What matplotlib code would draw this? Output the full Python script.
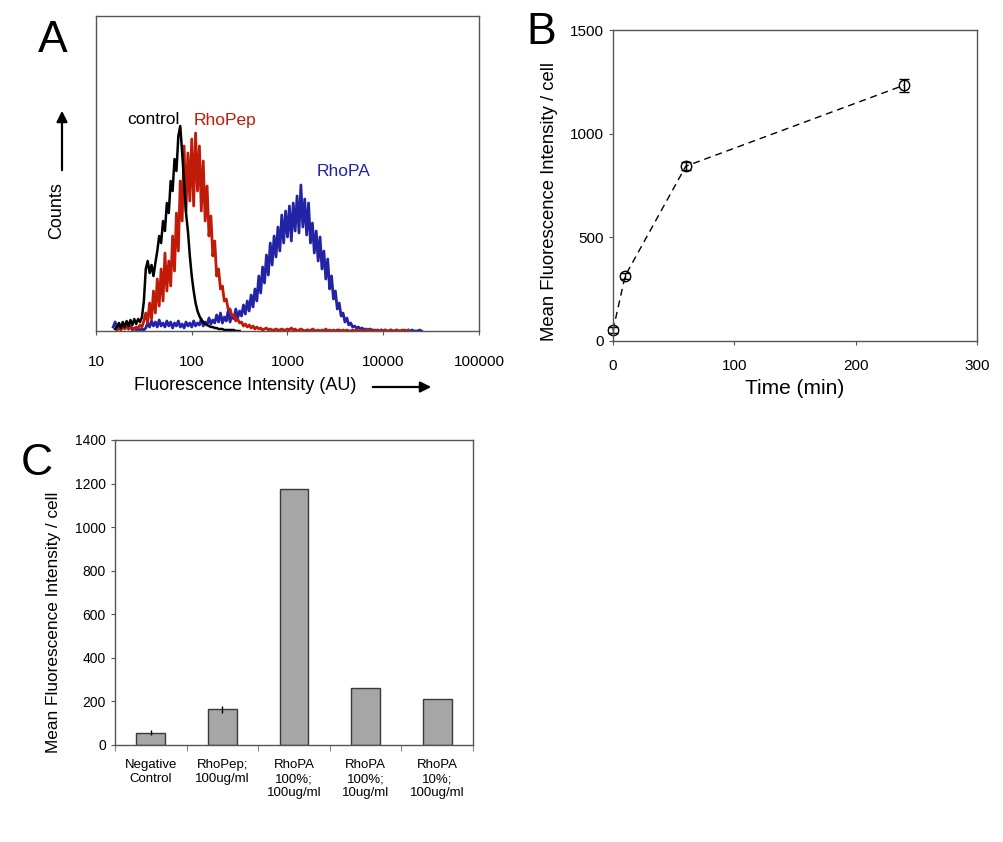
import numpy as np
import matplotlib
matplotlib.use("Agg")
import matplotlib.pyplot as plt

plt.rcParams['font.family'] = ['Liberation Sans', 'DejaVu Sans']

# ---- panel A : flow cytometry histograms (log10 channel grid, step 0.02) ----
step = 0.02
control_start = 1.20
control_counts = [2, 4, 8, 3, 9, 4, 10, 5, 11, 6, 12, 7, 12, 9, 14, 30, 62, 70, 58, 66,
                  55, 68, 80, 95, 88, 110, 100, 128, 118, 150, 140, 172, 160, 195, 205, 178,
                  150, 118, 100, 75, 55, 40, 28, 20, 15, 11, 9, 7, 6, 5, 4, 4, 3, 3, 2, 2,
                  2, 1, 1, 1, 1, 1, 1, 0, 0, 0]
rhopep_start = 1.22
rhopep_counts = [1, 3, 1, 4, 2, 5, 2, 4, 3,
                 2, 4, 3, 6, 4, 10, 18, 8, 28, 12, 40, 18, 52, 25, 62, 30, 78, 40, 70, 45,
                 95, 60, 118, 80, 150, 110, 185, 120, 178, 130, 192, 125, 198, 140, 185, 120,
                 170, 110, 145, 95, 115, 75, 90, 55, 62, 42, 45, 30, 32, 22, 22, 15, 16, 10,
                 12, 8, 9, 5, 7, 4, 6, 3, 5, 2, 4, 2, 3, 1, 2, 3, 1, 2, 1, 1, 2, 1,
                 1, 2, 1, 1, 2, 1, 3, 1, 2, 0, 1, 2, 1, 0, 1, 1, 0, 2, 1, 0, 1, 0, 1, 0,
                 2, 0, 1, 0, 1, 0, 1, 1, 0, 1, 0, 1, 0, 0, 1, 0, 1, 0, 1, 0, 0, 1, 0, 1,
                 0, 0, 1, 0, 0, 1, 0, 1, 0, 0, 1, 0, 0, 1, 0, 0, 1, 0, 0, 1]
rhopa_start = 1.18
rhopa_counts = [4, 9, 3, 7, 2, 8, 3, 6, 2, 5, 1, 3, 1, 2, 1, 2, 1, 3, 8, 4, 10, 5, 9, 4,
                11, 5, 8, 4, 10, 5, 9, 3, 8, 5, 10, 4, 7, 3, 9, 5, 8, 4, 10, 5, 8, 6, 12, 5,
                9, 6, 13, 7, 11, 8, 16, 9,
                18, 8, 14, 10, 20, 9, 16, 12, 22, 13, 20, 15, 26, 17, 30, 20,
                36, 24, 42, 30, 55, 38, 64, 48, 76, 56, 88, 66, 95, 74, 104, 80, 116, 88,
                120, 94, 125, 90, 128, 100, 135, 98, 146, 104, 132, 96, 128, 88, 108, 78,
                100, 70, 94, 62, 80, 52, 72, 42, 55, 32, 40, 22, 28, 15, 18, 9, 13, 6, 8,
                4, 5, 3, 4, 2, 3, 1, 2, 1, 2, 1, 1, 0, 1, 0, 1, 0, 1, 0, 0, 1, 0, 0, 1,
                0, 0, 0, 1, 0, 0, 0, 1, 0, 0, 0, 1, 0]

# ---- panel B : time course ----
time_min = [0, 10, 60, 240]
time_mfi = [52, 314, 843, 1234]
time_err = [15, 15, 20, 32]

# ---- panel C : bar chart ----
bar_labels = ['Negative\nControl', 'RhoPep;\n100ug/ml', 'RhoPA\n100%;\n100ug/ml',
              'RhoPA\n100%;\n10ug/ml', 'RhoPA\n10%;\n100ug/ml']
bar_mfi = [57, 163, 1174, 260, 209]
bar_err = [11, 17, 0, 0, 0]

W, H = 1004, 842
fig = plt.figure(figsize=(W / 100, H / 100), dpi=100)


def box(l, t, r, b):
    return [l / W, 1 - b / H, (r - l) / W, (b - t) / H]


frame_col = '#555555'

# ----------------- A -----------------
axA = fig.add_axes(box(96, 16, 479, 331))
curves = [(rhopa_start, rhopa_counts, '#2323a6', 2.0),
          (rhopep_start, rhopep_counts, '#c01a08', 2.0),
          (control_start, control_counts, 'black', 1.8)]
for start, counts, col, lw in curves:
    xs = 10 ** (start + step * np.arange(len(counts)))
    axA.plot(xs, counts, color=col, lw=lw)
axA.set_xscale('log')
axA.set_xlim(10, 100000)
axA.set_ylim(0, 315)
axA.set_yticks([])
axA.set_xticks([10, 100, 1000, 10000, 100000])
axA.set_xticklabels(['10', '100', '1000', '10000', '100000'])
axA.minorticks_off()
axA.tick_params(axis='x', direction='out', length=3, width=0.8, color=frame_col,
                labelsize=11, pad=14)
for s in axA.spines.values():
    s.set_color(frame_col)
    s.set_linewidth(1)
axA.text(21.1, 211, 'control', color='black', fontsize=12.5, va='center', ha='left')
axA.text(105, 211, 'RhoPep', color='#c01a08', fontsize=12.5, va='center', ha='left')
axA.text(1995, 159, 'RhoPA', color='#2323a6', fontsize=12.5, va='center', ha='left')

fig.text(53 / W, 1 - 41 / H, 'A', fontsize=32, ha='center', va='center')
fig.text(57 / W, 1 - 211 / H, 'Counts', fontsize=13, rotation=90, ha='center', va='center')
fig.text(245 / W, 1 - 385 / H, 'Fluorescence Intensity (AU)', fontsize=13,
         ha='center', va='center')
fig.add_artist(matplotlib.patches.FancyArrowPatch(
    (62 / W, 1 - 173 / H), (62 / W, 1 - 108 / H), transform=fig.transFigure,
    arrowstyle='-|>', mutation_scale=16, lw=1.6, color='black'))
fig.add_artist(matplotlib.patches.FancyArrowPatch(
    (370 / W, 1 - 387 / H), (434 / W, 1 - 387 / H), transform=fig.transFigure,
    arrowstyle='-|>', mutation_scale=16, lw=1.6, color='black'))

# ----------------- B -----------------
axB = fig.add_axes(box(613, 30, 977, 341))
axB.errorbar(time_min, time_mfi, yerr=time_err, color='black', ls=(0, (5, 3.5)), lw=1,
             marker='o', mfc='none', mec='black', ms=7.5, mew=1, capsize=3.5,
             elinewidth=1, capthick=1, clip_on=False)
axB.set_xlim(0, 300)
axB.set_ylim(0, 1500)
axB.set_xticks([0, 100, 200, 300])
axB.set_yticks([0, 500, 1000, 1500])
axB.tick_params(direction='out', length=3, width=0.8, labelsize=11, color=frame_col)
axB.tick_params(axis='x', pad=10)
axB.set_xlabel('Time (min)', fontsize=15, labelpad=4)
axB.set_ylabel('Mean Fluorescence Intensity / cell', fontsize=13.3)
axB.yaxis.set_label_coords(-0.152, 0.447)
for s in axB.spines.values():
    s.set_color(frame_col)
    s.set_linewidth(1)
fig.text(541 / W, 1 - 32 / H, 'B', fontsize=32, ha='center', va='center')

# ----------------- C -----------------
axC = fig.add_axes(box(115, 440, 473, 745))
pos = np.arange(len(bar_mfi))
axC.bar(pos, bar_mfi, width=0.4, color='#a6a6a6', edgecolor='#3a3a3a', lw=1)
axC.errorbar(pos, bar_mfi, yerr=bar_err, fmt='none', ecolor='black', elinewidth=1,
             capsize=0)
axC.set_xlim(-0.5, len(bar_mfi) - 0.5)
axC.set_ylim(0, 1400)
axC.set_yticks(np.arange(0, 1401, 200))
axC.set_xticks(pos)
axC.set_xticklabels(bar_labels, fontsize=9.5, linespacing=1.25)
axC.set_xticks(np.arange(-0.5, len(bar_mfi)), minor=True)
axC.tick_params(axis='x', which='major', length=0, pad=10)
axC.tick_params(axis='x', which='minor', direction='out', length=4, width=0.8,
                color='#888888')
axC.tick_params(axis='y', direction='out', length=3, width=0.8, labelsize=10,
                color=frame_col)
axC.set_ylabel('Mean Fluorescence Intensity / cell', fontsize=12.4)
axC.yaxis.set_label_coords(-0.15, 0.403)
for s in axC.spines.values():
    s.set_color(frame_col)
    s.set_linewidth(1)
fig.text(37 / W, 1 - 463 / H, 'C', fontsize=32, ha='center', va='center')

fig.savefig('out.png', dpi=100)
